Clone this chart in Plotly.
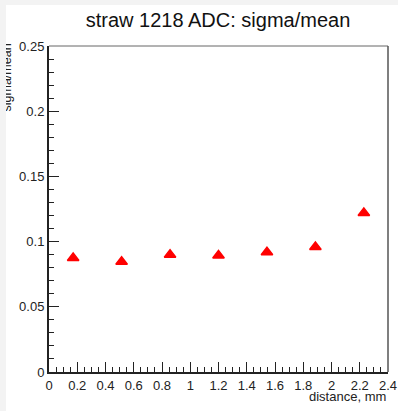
import plotly.graph_objects as go

# Data
distance_mm = [0.171, 0.514, 0.857, 1.200, 1.543, 1.886, 2.229]
sigma_over_mean = [0.0875, 0.0845, 0.0900, 0.0893, 0.0918, 0.0959, 0.1220]

title_text = "straw 1218 ADC: sigma/mean"
x_title = "distance, mm"
y_title = "sigma/mean"

FONT = "Liberation Sans, Arial, Helvetica, sans-serif"
W, H = 392, 406
ML, MR, MT, MB = 43, 10, 41, 39

fig = go.Figure()
fig.add_trace(go.Scatter(
    x=distance_mm, y=sigma_over_mean, mode="markers",
    marker=dict(symbol="triangle-up", size=10, color="#ff0000",
                line=dict(color="#ff0000", width=1.5)),
    showlegend=False, cliponaxis=False,
))

axis_common = dict(
    showgrid=False, zeroline=False, showline=True, linecolor="#222222",
    linewidth=2, ticks="inside", tickcolor="#222222", tickwidth=1,
    ticklen=10, tickfont=dict(family=FONT, size=13, color="#222222"),
    automargin=False,
)
fig.update_xaxes(range=[0, 2.4], dtick=0.2, tick0=0,
                 minor=dict(ticks="inside", dtick=0.05, ticklen=5,
                            tickcolor="#222222", tickwidth=1),
                 **axis_common)
fig.update_yaxes(range=[0, 0.25], dtick=0.05, tick0=0,
                 minor=dict(ticks="inside", dtick=0.01, ticklen=5,
                            tickcolor="#222222", tickwidth=1),
                 **axis_common)

# thin top/right frame lines
fig.add_shape(type="line", xref="paper", yref="paper", x0=0, x1=1, y0=1, y1=1,
              line=dict(color="#666666", width=1))
fig.add_shape(type="line", xref="paper", yref="paper", x0=1, x1=1, y0=0, y1=1,
              line=dict(color="#555555", width=1.5))

pw = W - ML - MR
ph = H - MT - MB
fig.add_annotation(text=x_title, xref="paper", yref="paper",
                   x=1, xanchor="right", y=-(391 - (H - MB)) / ph, yanchor="middle",
                   showarrow=False, font=dict(family=FONT, size=13, color="#222222"))
fig.add_annotation(text=y_title, xref="paper", yref="paper", textangle=-90,
                   x=(9.5 - ML) / pw, xanchor="right", y=1 + 4 / ph, yanchor="top",
                   showarrow=False, font=dict(family=FONT, size=12.5, color="#222222"))

fig.update_layout(
    width=W, height=H,
    margin=dict(l=ML, r=MR, t=MT, b=MB, pad=0, autoexpand=False),
    paper_bgcolor="white", plot_bgcolor="white",
    title=dict(text=title_text, x=212 / W, xanchor="center", xref="container",
               y=1 - 15 / H, yanchor="middle", yref="container",
               font=dict(family=FONT, size=20, color="#111111")),
)

fig.write_html(
    "out.html",
    post_script=(
        "document.body.style.margin='5px 0 0 6px';"
        "document.body.style.background='#f3f3f3';"
        "document.documentElement.style.overflow='hidden';"
        "function strip(l,t,w,h){var d=document.createElement('div');"
        "d.style.cssText='position:fixed;z-index:1000;background:#f3f3f3;left:'+l+'px;top:'+t+'px;width:'+w+'px;height:'+h+'px;';"
        "document.body.appendChild(d);}"
        "strip(0,0,6,411);strip(0,0,398,5);"
    ),
)
